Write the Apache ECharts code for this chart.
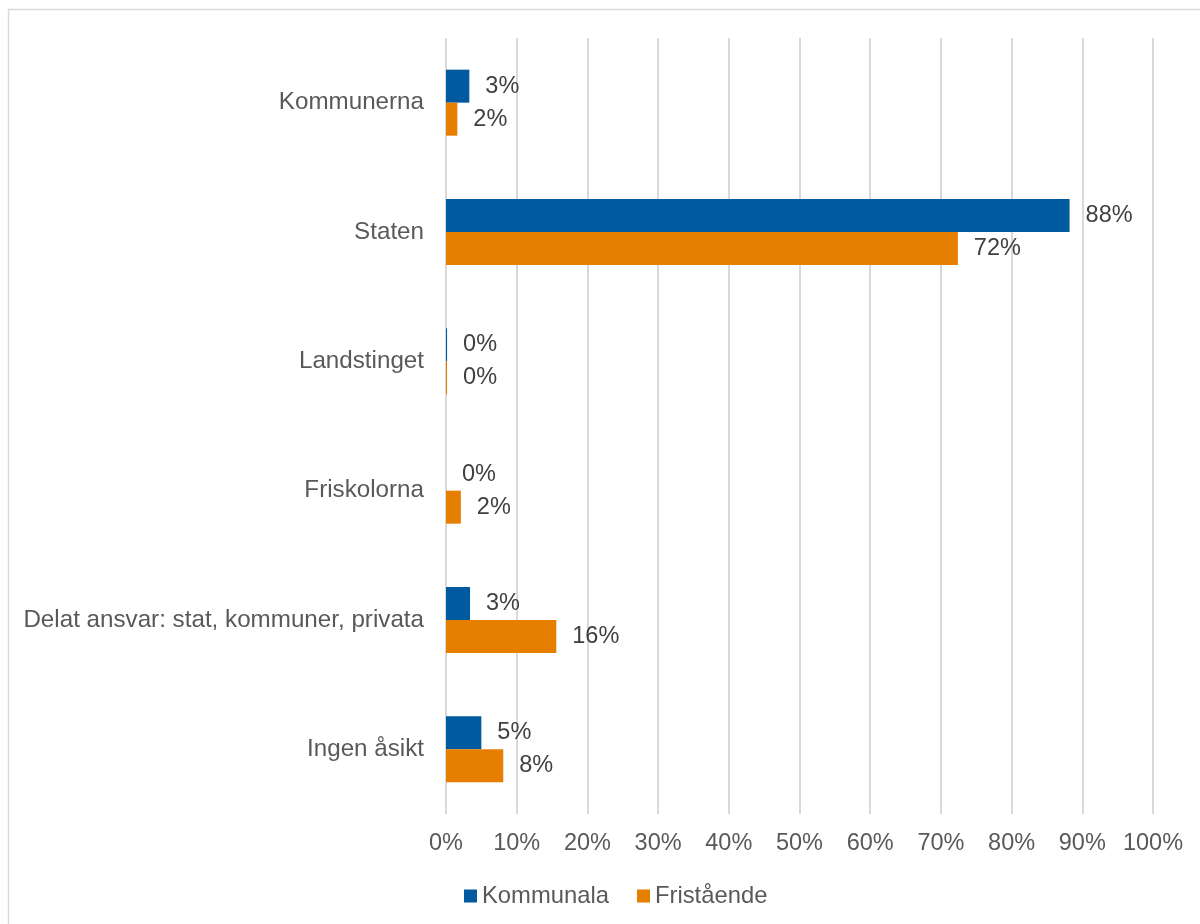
<!DOCTYPE html>
<html>
<head>
<meta charset="utf-8">
<script src="https://cdn.jsdelivr.net/npm/echarts@6/dist/echarts.min.js"></script>
<style>
  html, body { margin: 0; padding: 0; background: #fff; }
  #chart { width: 1200px; height: 924px; }
</style>
</head>
<body>
<div id="chart"></div>
<script>
var categories = ['Kommunerna', 'Staten', 'Landstinget', 'Friskolorna', 'Delat ansvar: stat, kommuner, privata', 'Ingen åsikt'];
var kommunala = [3.3, 88.2, 0.15, 0, 3.4, 5.0];
var fristaende = [1.6, 72.4, 0.15, 2.1, 15.6, 8.1];
var ticks = [0, 10, 20, 30, 40, 50, 60, 70, 80, 90, 100];

var font = 'Liberation Sans, Arial, sans-serif';

var chart = echarts.init(document.getElementById('chart'));

var labelStyle = {
    show: true,
    position: 'right',
    distance: 16,
    color: '#404040',
    fontSize: 23.5,
    fontFamily: font,
    formatter: function (p) { return Math.round(p.value) + '%'; }
};

var option = {
    backgroundColor: '#fff',
    animation: false,
    graphic: [{
        type: 'rect',
        shape: { x: 8.5, y: 9.5, width: 1200, height: 930 },
        style: { fill: 'none', stroke: '#d9d9d9', lineWidth: 1.5 }
    }],
    grid: { left: 446, right: 47, top: 38, bottom: 110 },
    legend: {
        left: 459,
        top: 879,
        itemWidth: 13,
        itemHeight: 13,
        itemGap: 28,
        icon: 'rect',
        textStyle: { color: '#595959', fontSize: 23.8, fontFamily: font },
        data: ['Kommunala', 'Fristående']
    },
    xAxis: {
        type: 'value',
        min: ticks[0],
        max: ticks[ticks.length - 1],
        interval: 10,
        axisLine: { show: false },
        axisTick: { show: false },
        splitLine: { lineStyle: { color: '#d9d9d9', width: 2 } },
        axisLabel: {
            color: '#595959', fontSize: 23.5, fontFamily: font, margin: 18,
            formatter: '{value}%'
        }
    },
    yAxis: {
        type: 'category',
        inverse: true,
        data: categories,
        axisLine: { show: false },
        axisTick: { show: false },
        axisLabel: { color: '#595959', fontSize: 24.2, fontFamily: font, margin: 22 }
    },
    series: [
        {
            name: 'Kommunala',
            type: 'bar',
            barWidth: 33,
            barGap: '0%',
            itemStyle: { color: '#005aa0' },
            label: labelStyle,
            data: kommunala
        },
        {
            name: 'Fristående',
            type: 'bar',
            barWidth: 33,
            barGap: '0%',
            itemStyle: { color: '#e67e00' },
            label: labelStyle,
            data: fristaende
        }
    ]
};

chart.setOption(option);
</script>
</body>
</html>
